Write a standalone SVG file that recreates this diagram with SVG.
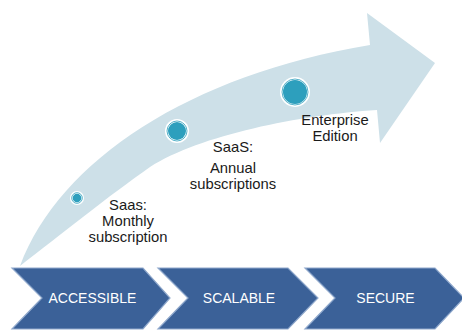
<svg xmlns="http://www.w3.org/2000/svg" width="462" height="330" viewBox="0 0 462 330">
<style>
.chev{fill:#3b6198;stroke:#8fa8cc;stroke-width:1.2}
.clabel{font-family:"Liberation Sans",Arial,sans-serif;font-size:14px;fill:#ffffff;text-anchor:middle}
.lbl{font-family:"Liberation Sans",Arial,sans-serif;font-size:14.8px;fill:#1a1a1a;text-anchor:middle}
.ring{fill:#ffffff}
.inner{fill:none;stroke:#2d9fbd;stroke-width:0.8}
.dot{fill:#2d9fbd}
</style>
<rect width="462" height="330" fill="#ffffff"/>
<g id="arrow">
<path d="M20,266 C60,160 190,75 370,45 L367,13 L435,63 L380,143 L377,110 C300,115 200,135 150,167 C110,195 60,235 20,266 Z" fill="#cde0e8"/>
</g>
<g id="connectors"></g>
<g id="m1">
<circle class="ring" cx="77" cy="198" r="7"/>
<circle class="inner" cx="77" cy="198" r="5.3"/>
<circle class="dot" cx="77" cy="198" r="4.3"/>
<text class="lbl" x="128" y="210">Saas:</text>
<text class="lbl" x="128" y="226">Monthly</text>
<text class="lbl" x="128" y="242">subscription</text>
</g>
<g id="m2">
<circle class="ring" cx="177" cy="131" r="12"/>
<circle class="inner" cx="177" cy="131" r="10"/>
<circle class="dot" cx="177" cy="131" r="9"/>
<text class="lbl" x="233" y="152">SaaS:</text>
<text class="lbl" x="233" y="173">Annual</text>
<text class="lbl" x="233" y="189">subscriptions</text>
</g>
<g id="m3">
<circle class="ring" cx="295" cy="92" r="15"/>
<circle class="inner" cx="295" cy="92" r="13"/>
<circle class="dot" cx="295" cy="92" r="12"/>
<text class="lbl" x="335" y="125">Enterprise</text>
<text class="lbl" x="335" y="141">Edition</text>
</g>
<g id="accessible">
<path class="chev" d="M12,268 L143,268 L170,298 L143,329 L12,329 L42,298 Z"/>
<text class="clabel" x="92.5" y="303">ACCESSIBLE</text>
</g>
<g id="scalable">
<path class="chev" d="M158,268 L288,268 L318,298 L288,329 L158,329 L188,298 Z"/>
<text class="clabel" x="239" y="303">SCALABLE</text>
</g>
<g id="secure">
<path class="chev" d="M305,268 L435,268 L464,298 L435,329 L305,329 L335,298 Z"/>
<text class="clabel" x="385.5" y="303">SECURE</text>
</g>
</svg>
